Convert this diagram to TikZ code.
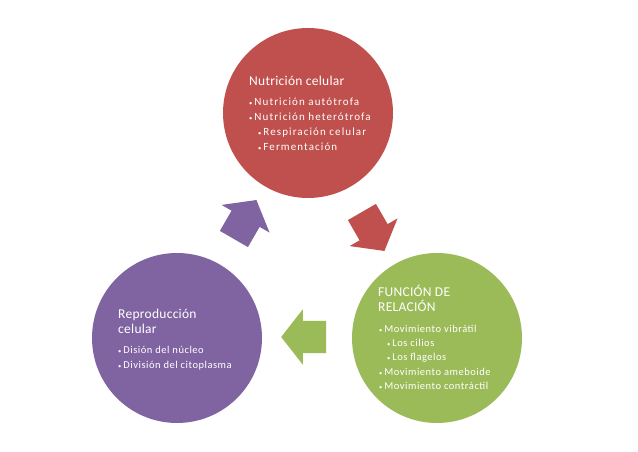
\documentclass[tikz,border=0pt]{standalone}
\usepackage{fontspec}
\setmainfont{Carlito}
\usetikzlibrary{shapes.arrows}
\definecolor{rojo}{HTML}{C0504D}
\definecolor{verde}{HTML}{9BBB59}
\definecolor{morado}{HTML}{8064A2}
\newcommand{\bul}{{\fontsize{6.5}{6.5}\selectfont\textbullet}\hspace{2pt}}
\tikzset{
  celula/.style={circle, minimum size=170pt, inner sep=0pt, fill=#1},
  flecha/.style={single arrow, fill=#1, inner xsep=0pt, inner ysep=16pt, minimum height=45pt,
    single arrow head extend=11.5pt, single arrow tip angle=104},
  titulo/.style={anchor=base west, text=white, inner sep=0pt,
    font=\fontsize{13.5}{15}\selectfont\addfontfeatures{LetterSpace=2}},
  punto/.style={anchor=base west, text=white, inner sep=0pt,
    font=\fontsize{10.5}{12}\selectfont\addfontfeatures{LetterSpace=5}},
  puntorojo/.style={punto, font=\fontsize{11}{12}\selectfont\addfontfeatures{LetterSpace=10}}
}
\begin{document}
\begin{tikzpicture}[x=1pt,y=1pt]
  \useasboundingbox (0,0) rectangle (638,452);
  % circulos
  \node[celula=rojo] (nutricion) at (308,339) {};
  \node[celula=verde] (relacion) at (437,114) {};
  \node[celula=morado] (reproduccion) at (177,114) {};
  % flechas
  \node[flecha=rojo, rotate=-60] (f-rojo) at (370,226) {};
  \node[flecha=verde, rotate=180] (f-verde) at (310,115) {};
  \node[flecha=morado, rotate=60] (f-morado) at (242,227) {};
  % textos
  \node[titulo] (nut-tit) at (249,366) {Nutrición celular};
  \foreach \x/\y/\t [count=\i] in {249/346.5/Nutrición autótrofa, 249/331.5/Nutrición heterótrofa,
      258/316.5/Respiración celular, 258/301.5/Fermentación} {
    \node[puntorojo] (nut-\i) at (\x,\y) {\bul\t};
  }
  \node[titulo] (rel-tit1) at (378,155.5) {FUNCIÓN DE};
  \node[titulo] (rel-tit2) at (378,140.5) {RELACIÓN};
  \foreach \x/\y/\t [count=\i] in {379/119.5/Movimiento vibrátil, 387/105.5/Los cilios,
      387/91.5/Los flagelos, 379/76.5/Movimiento ameboide, 379/62.5/Movimiento contráctil} {
    \node[punto] (rel-\i) at (\x,\y) {\bul\t};
  }
  \node[titulo] (rep-tit1) at (118,133.5) {Reproducción};
  \node[titulo] (rep-tit2) at (118,118.5) {celular};
  \foreach \x/\y/\t [count=\i] in {118/98.5/Disión del núcleo, 118/83.5/División del citoplasma} {
    \node[punto] (rep-\i) at (\x,\y) {\bul\t};
  }
\end{tikzpicture}
\end{document}
